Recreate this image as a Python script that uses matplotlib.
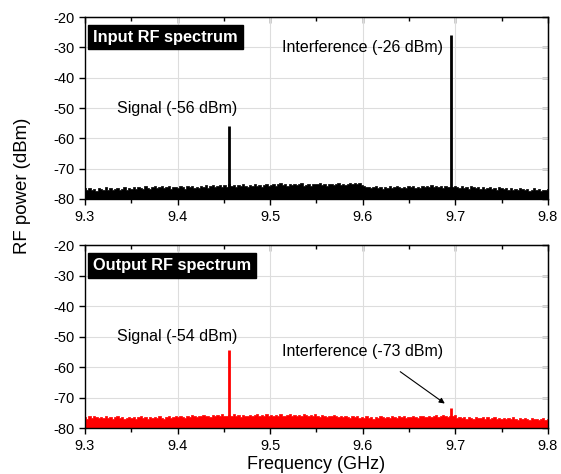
import numpy as np
import matplotlib.pyplot as plt

plt.rcParams['font.family'] = ['Liberation Sans', 'DejaVu Sans']
plt.rcParams['axes.unicode_minus'] = False

# noise floor (dBm), 200 samples from 9.3 to 9.8 GHz
noise_in = [-76.5, -77.2, -76.3, -76.9, -76.6, -77.3, -76.4, -76.8, -77.0, -76.2,
            -76.9, -76.4, -77.1, -76.6, -76.3, -77.0, -76.7, -76.2, -76.9, -76.5,
            -76.8, -76.1, -76.6, -75.9, -76.4, -76.7, -75.8, -76.3, -76.6, -76.0,
            -75.7, -76.4, -76.0, -75.6, -76.5, -76.1, -75.8, -76.6, -76.2, -75.9,
            -76.3, -75.7, -76.1, -76.6, -75.8, -76.2, -75.6, -76.4, -75.9, -76.3,
            -75.6, -76.0, -75.5, -76.3, -75.8, -75.4, -76.1, -75.7, -75.3, -76.0,
            -75.4, -75.9, -75.2, -75.7, -75.5, -76.0, -75.3, -75.8, -75.1, -75.6,
            -75.9, -75.4, -75.8, -75.1, -75.6, -75.3, -76.2, -75.5, -74.9, -75.7,
            -75.3, -75.0, -75.6, -75.2, -74.8, -75.5, -75.1, -75.7, -75.0, -75.4,
            -74.9, -75.5, -75.2, -74.8, -75.6, -75.3, -75.0, -75.7, -75.2, -74.9,
            -75.1, -74.8, -75.4, -75.0, -75.6, -75.2, -74.9, -75.5, -75.1, -74.7,
            -75.3, -74.9, -75.4, -75.1, -74.6, -75.2, -74.8, -75.0, -74.6, -75.3,
            -75.8, -76.2, -75.9, -76.5, -76.1, -75.7, -76.4, -76.0, -76.6, -75.9,
            -76.3, -75.8, -76.4, -76.1, -75.6, -76.2, -76.5, -75.9, -76.3, -75.7,
            -76.1, -75.7, -76.3, -75.9, -76.4, -75.6, -76.0, -75.8, -76.2, -75.5,
            -76.0, -75.7, -76.2, -75.8, -76.3, -75.6, -76.1, -75.9, -76.2, -75.7,
            -75.9, -76.3, -75.7, -76.5, -76.0, -76.6, -75.8, -76.2, -76.4, -75.9,
            -76.6, -76.1, -76.8, -76.3, -76.0, -76.7, -76.4, -76.9, -76.2, -76.5,
            -76.8, -76.3, -77.0, -76.5, -76.9, -76.6, -77.2, -76.4, -76.8, -77.1,
            -76.7, -77.3, -76.9, -76.5, -77.2, -76.8, -77.5, -76.9, -77.1, -76.7]
noise_out = [-76.4, -76.9, -76.2, -76.7, -76.0, -76.5, -76.8, -76.3, -76.6, -76.1,
             -76.7, -76.3, -76.9, -76.5, -76.2, -76.8, -76.4, -77.0, -76.6, -76.3,
             -76.8, -76.4, -77.0, -76.5, -76.2, -76.7, -76.3, -76.9, -76.5, -76.8,
             -76.3, -76.7, -76.1, -76.6, -76.9, -76.4, -76.2, -76.8, -76.5, -76.1,
             -76.4, -75.9, -76.3, -76.6, -76.0, -76.4, -75.8, -76.2, -76.5, -76.0,
             -76.2, -75.7, -76.1, -75.9, -76.3, -75.6, -76.0, -75.8, -76.2, -75.5,
             -75.9, -76.2, -75.7, -76.0, -75.5, -76.1, -75.8, -76.3, -75.6, -75.9,
             -76.1, -75.6, -76.0, -75.8, -75.4, -76.2, -75.7, -75.9, -75.5, -76.0,
             -75.8, -76.1, -75.6, -76.0, -75.4, -75.9, -76.2, -75.7, -75.5, -76.0,
             -75.7, -76.2, -75.6, -75.9, -75.3, -75.8, -76.1, -75.6, -75.9, -75.4,
             -75.9, -76.3, -75.8, -76.1, -76.4, -75.9, -76.2, -75.7, -76.0, -76.3,
             -76.1, -76.5, -76.0, -76.4, -76.7, -76.2, -76.5, -76.0, -76.6, -76.3,
             -76.7, -76.2, -76.6, -76.4, -76.9, -76.3, -76.6, -76.1, -76.5, -76.8,
             -76.3, -76.6, -76.1, -76.5, -76.8, -76.2, -76.4, -76.0, -76.6, -76.3,
             -76.5, -76.1, -76.4, -76.7, -76.2, -76.0, -76.5, -76.3, -75.9, -76.4,
             -76.2, -75.8, -76.3, -76.0, -75.7, -76.1, -76.4, -75.9, -76.2, -75.8,
             -76.6, -76.3, -76.8, -76.4, -76.9, -76.5, -76.7, -77.0, -76.4, -76.6,
             -76.8, -76.4, -76.9, -76.5, -77.1, -76.7, -76.3, -76.9, -76.6, -77.0,
             -76.8, -77.2, -76.7, -77.0, -76.5, -76.9, -77.3, -76.8, -77.1, -76.6,
             -77.0, -77.3, -76.8, -77.2, -76.9, -77.4, -77.0, -76.8, -77.3, -76.9]

# tones: frequency (GHz) and power (dBm)
f_signal = 9.455
f_interf = 9.695
p_in = [-56, -26]
p_out = [-54.5, -73.5]

freq = np.linspace(9.3, 9.8, len(noise_in))
xmajor = [9.3, 9.4, 9.5, 9.6, 9.7, 9.8]
xminor = [9.35, 9.45, 9.55, 9.65, 9.75]
yticks = [-80, -70, -60, -50, -40, -30, -20]

fig = plt.figure(figsize=(5.61, 4.74), dpi=100)
ax1 = fig.add_axes([0.1515, 0.5802, 0.8253, 0.3839])
ax2 = fig.add_axes([0.1515, 0.0970, 0.8253, 0.3861])


def draw_panel(ax, noise, peaks, color, title):
    ax.fill_between(freq, -80, noise, step='mid', color=color, lw=0.5, edgecolor=color)
    ax.vlines([f_signal, f_interf], -80, peaks, color=color, lw=2)
    ax.set_xlim(9.3, 9.8)
    ax.set_ylim(-80, -20)
    ax.set_xticks(xmajor)
    ax.set_xticks(xminor, minor=True)
    ax.set_yticks(yticks)
    ax.grid(True, color='#dddddd', lw=0.8)
    ax.set_axisbelow(True)
    ax.tick_params(labelsize=10.5, length=4, width=1, direction='out', pad=3.5)
    ax.tick_params(axis='x', pad=4)
    ax.tick_params(which='minor', length=3, width=1, direction='out')
    # inward ticks on top and right
    sec = ax.secondary_xaxis('top')
    sec.set_xticks(xmajor)
    sec.set_xticks(xminor, minor=True)
    sec.tick_params(direction='in', length=4, width=1)
    sec.tick_params(which='minor', direction='in', length=3, width=1)
    sec.set_xticklabels([])
    secy = ax.secondary_yaxis('right')
    secy.set_yticks(yticks)
    secy.tick_params(direction='in', length=4, width=1)
    secy.set_yticklabels([])
    for s in ax.spines.values():
        s.set_linewidth(1)
    ax.text(9.309, -26.6, title, fontsize=11.8, fontweight='bold', color='white',
            va='center', ha='left',
            bbox=dict(boxstyle='square,pad=0.3', fc='black', ec='black'))


draw_panel(ax1, noise_in, p_in, 'black', 'Input RF spectrum')
draw_panel(ax2, noise_out, p_out, '#ff0000', 'Output RF spectrum')

ax1.text(9.40, -50, 'Signal (-56 dBm)', fontsize=11.5, ha='center', va='center')
ax1.text(9.60, -30, 'Interference (-26 dBm)', fontsize=11.5, ha='center', va='center')
ax2.text(9.40, -50, 'Signal (-54 dBm)', fontsize=11.5, ha='center', va='center')
ax2.text(9.60, -55, 'Interference (-73 dBm)', fontsize=11.5, ha='center', va='center')
ax2.annotate('', xy=(9.691, -72.5), xytext=(9.638, -61),
             arrowprops=dict(arrowstyle='-|>', color='black', lw=0.8, mutation_scale=8))

fig.text(0.04, 0.609, 'RF power (dBm)', rotation=90, fontsize=13.4, ha='center', va='center')
ax2.set_xlabel('Frequency (GHz)', fontsize=13, labelpad=2)

fig.savefig('out.png', dpi=100)
